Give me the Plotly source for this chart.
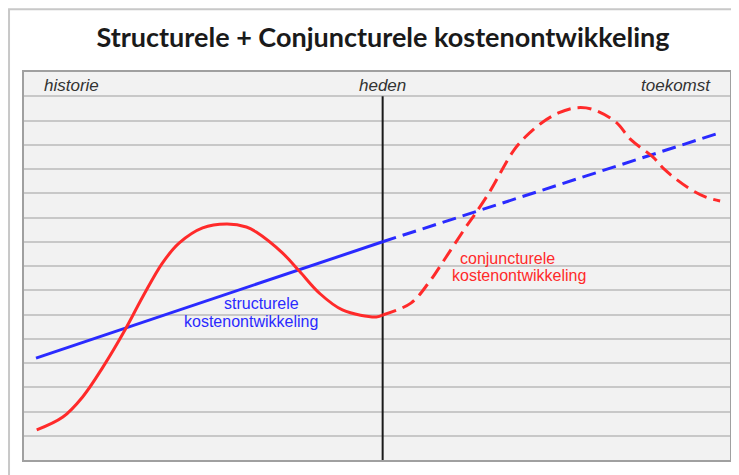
import plotly.graph_objects as go

# time axis 0..100 (heden ~ 50.8), cost axis 0..16 (gridline units)
heden_x = 50.8

struct_hist_x = [1.7, 50.8]
struct_hist_y = [4.2, 9.0]
struct_fut_x = [50.8, 98.6]
struct_fut_y = [9.0, 13.5]

conj_hist_x = [1.8, 5.5, 8.3, 11.2, 14.3, 16.8, 19.6, 22.0, 25.3, 28.7, 31.5, 32.9, 36.6, 39.0, 41.8, 45.1, 49.9, 50.8]
conj_hist_y = [1.24, 1.77, 2.6, 3.84, 5.36, 6.72, 8.12, 8.95, 9.57, 9.73, 9.61, 9.4, 8.54, 7.79, 6.89, 6.19, 5.9, 5.98]
conj_fut_x = [50.8, 54.8, 57.3, 59.7, 62.6, 64.0, 66.1, 67.7, 69.4, 71.0, 73.3, 75.7, 78.1, 80.4, 83.8, 86.0, 89.1, 90.8, 94.1, 96.5, 98.6]
conj_fut_y = [5.98, 6.47, 7.3, 8.33, 9.61, 10.19, 11.13, 11.96, 12.78, 13.32, 13.9, 14.31, 14.52, 14.47, 13.94, 13.2, 12.49, 11.96, 11.22, 10.85, 10.68]

header_labels = ["historie", "heden", "toekomst"]
title_text = "Structurele + Conjuncturele kostenontwikkeling"

RED = "#ff2a2a"
BLUE = "#2a2aff"

fig = go.Figure()
fig.add_trace(go.Scatter(x=[heden_x, heden_x], y=[0, 15], mode="lines",
                         line=dict(color="#1a1a1a", width=2), hoverinfo="skip"))
fig.add_trace(go.Scatter(x=struct_hist_x, y=struct_hist_y, mode="lines",
                         line=dict(color=BLUE, width=3)))
fig.add_trace(go.Scatter(x=struct_fut_x, y=struct_fut_y, mode="lines",
                         line=dict(color=BLUE, width=3, dash="14px,7px")))
fig.add_trace(go.Scatter(x=conj_hist_x, y=conj_hist_y, mode="lines",
                         line=dict(color=RED, width=3, shape="spline", smoothing=1)))
fig.add_trace(go.Scatter(x=conj_fut_x, y=conj_fut_y, mode="lines",
                         line=dict(color=RED, width=3, dash="14px,7px", shape="spline", smoothing=1)))

lab_font = dict(family="Liberation Sans, Arial", size=17, color="#333333")
ann_size = 16
annotations = [
    dict(x=2.5, y=15.45, text="<i>" + header_labels[0] + "</i>", xanchor="left", font=lab_font),
    dict(x=heden_x, y=15.45, text="<i>" + header_labels[1] + "</i>", xanchor="center", font=lab_font),
    dict(x=97.6, y=15.45, text="<i>" + header_labels[2] + "</i>", xanchor="right", font=lab_font),
    dict(x=33.6, y=6.45, text="structurele", xanchor="center",
         font=dict(family="Liberation Sans, Arial", size=ann_size, color=BLUE)),
    dict(x=32.1, y=5.7, text="kostenontwikkeling", xanchor="center",
         font=dict(family="Liberation Sans, Arial", size=ann_size, color=BLUE)),
    dict(x=68.5, y=8.33, text="conjuncturele", xanchor="center",
         font=dict(family="Liberation Sans, Arial", size=ann_size, color=RED)),
    dict(x=70.1, y=7.59, text="kostenontwikkeling", xanchor="center",
         font=dict(family="Liberation Sans, Arial", size=ann_size, color=RED)),
]
for a in annotations:
    a.update(xref="x", yref="y", showarrow=False, yanchor="middle")

# outer frame of the picture
shapes = [dict(type="rect", xref="paper", yref="paper", x0=-0.0212, x1=1.05, y0=-0.1, y1=1.162,
               line=dict(color="#c8c8c8", width=2), fillcolor="rgba(0,0,0,0)", layer="below")]

fig.update_layout(
    width=731, height=467,
    margin=dict(l=16, r=7, t=64, b=15),
    paper_bgcolor="white", plot_bgcolor="#f2f2f2",
    showlegend=False,
    title=dict(text="<b>" + title_text + "</b>", x=0.513, xanchor="center", y=0.936, yanchor="middle",
               font=dict(family="Lato", size=27, color="#1a1a1a")),
    annotations=annotations, shapes=shapes,
    xaxis=dict(range=[0, 100], showgrid=False, zeroline=False, showticklabels=False, ticks="",
               showline=True, mirror=True, linecolor="#a0a0a0", linewidth=2, fixedrange=True),
    yaxis=dict(range=[0, 16], showgrid=True, gridcolor="#c8c8c8", gridwidth=2, dtick=1, tick0=0,
               zeroline=False, showticklabels=False, ticks="",
               showline=True, mirror=True, linecolor="#a0a0a0", linewidth=2, fixedrange=True),
)
fig.write_html("out.html")
